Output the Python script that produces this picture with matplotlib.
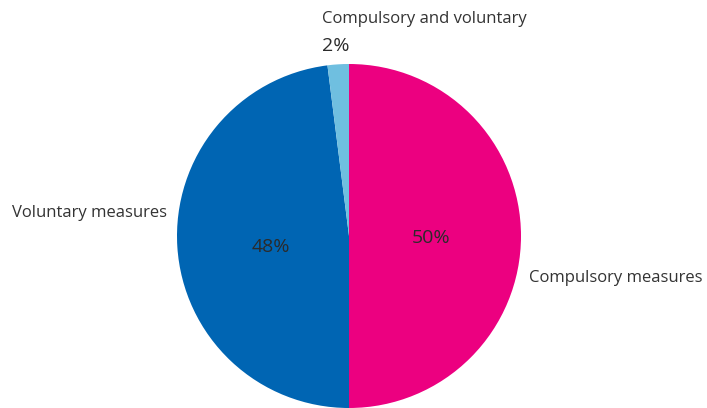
import matplotlib.pyplot as plt

# share of measures by type
labels = ["Compulsory measures", "Voluntary measures", "Compulsory and voluntary"]
shares = [50, 48, 2]
colors = ["#EC0080", "#0065B3", "#6FBFE0"]

plt.rcParams['font.family'] = ['Open Sans', 'DejaVu Sans']

fig = plt.figure(figsize=(7.07, 4.08), dpi=100)
ax = fig.add_axes([0, 0, 1, 1])

def pct(v):
    return "{:.0f}%".format(v) if v > 5 else ""

wedges, texts, autotexts = ax.pie(shares, colors=colors, startangle=90, counterclock=False,
                                  center=(349, 172), radius=172, autopct=pct, pctdistance=0.48,
                                  textprops=dict(color="#2b2b2b", fontsize=14), frame=True)
ax.axis('off')
ax.set_xlim(0, 707)
ax.set_ylim(0, 408)
ax.set_aspect('equal')

# nudge the inside labels a bit
autotexts[0].set_position((431, 170))
autotexts[1].set_position((271, 161))

txt = dict(color="#333333", fontsize=12)
ax.text(529, 130, labels[0], ha='left', va='center', **txt)
ax.text(12, 195, labels[1], ha='left', va='center', **txt)
ax.text(322, 389, labels[2], ha='left', va='center', **txt)
ax.text(322, 362, "{}%".format(shares[2]), ha='left', va='center', color="#2b2b2b", fontsize=14)

fig.savefig("out.png", dpi=100)
